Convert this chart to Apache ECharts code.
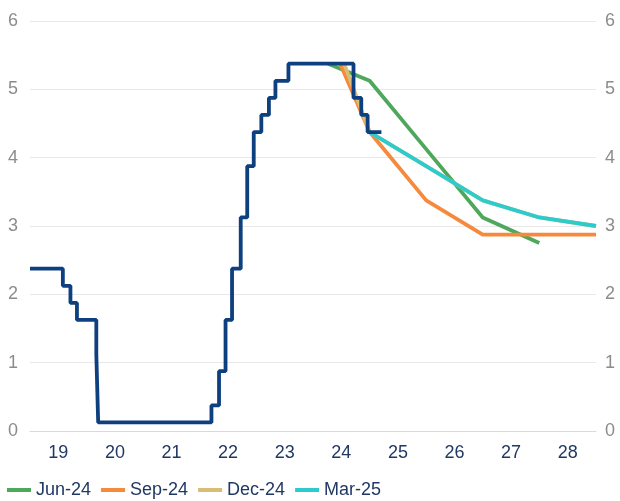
<!DOCTYPE html>
<html>
<head>
<meta charset="utf-8">
<script src="https://cdn.jsdelivr.net/npm/echarts@6/dist/echarts.min.js"></script>
<style>
  html, body { margin: 0; padding: 0; background: #fff; }
  #chart { width: 620px; height: 501px; }
</style>
</head>
<body>
<div id="chart"></div>
<script>
// year labels along the bottom axis
const yearLabels = ["19", "20", "21", "22", "23", "24", "25", "26", "27", "28"];

// policy rate (midpoint of target range), each point = date of change
const policyRate = [
  ["2019-01-01", 2.375],
  ["2019-08-01", 2.125],
  ["2019-09-19", 1.875],
  ["2019-10-31", 1.625],
  ["2020-03-04", 1.125],
  ["2020-03-16", 0.125],
  ["2022-03-17", 0.375],
  ["2022-05-05", 0.875],
  ["2022-06-16", 1.625],
  ["2022-07-28", 2.375],
  ["2022-09-22", 3.125],
  ["2022-11-03", 3.875],
  ["2022-12-15", 4.375],
  ["2023-02-02", 4.625],
  ["2023-03-23", 4.875],
  ["2023-05-04", 5.125],
  ["2023-07-27", 5.375],
  ["2024-09-19", 4.875],
  ["2024-11-08", 4.625],
  ["2024-12-19", 4.375],
  ["2025-03-18", 4.375]
];

// projections
const jun24 = [
  ["2024-04-08", 5.375],
  ["2025-01-01", 5.125],
  ["2026-01-01", 4.125],
  ["2027-01-01", 3.125],
  ["2028-01-01", 2.75]
];
const sep24 = [
  ["2024-06-25", 5.375],
  ["2025-01-01", 4.375],
  ["2026-01-01", 3.375],
  ["2027-01-01", 2.875],
  ["2028-01-01", 2.875],
  ["2029-01-01", 2.875]
];
const dec24 = [
  ["2024-07-20", 5.375],
  ["2025-01-01", 4.375],
  ["2026-01-01", 3.875],
  ["2027-01-01", 3.375],
  ["2028-01-01", 3.125],
  ["2029-01-01", 3.0]
];
const mar25 = [
  ["2025-01-01", 4.375],
  ["2026-01-01", 3.875],
  ["2027-01-01", 3.375],
  ["2028-01-01", 3.125],
  ["2029-01-01", 3.0]
];

const FONT = "Liberation Sans, Arial, sans-serif";
const chart = echarts.init(document.getElementById("chart"));

const forecastLine = (name, data, color) => ({
  name,
  type: "line",
  xAxisIndex: 1,
  data,
  showSymbol: false,
  color,
  lineStyle: { color, width: 3.8 }
});

const option = {
  animation: false,
  grid: { left: 30, right: 24, top: 21, bottom: 70 },
  legend: {
    left: 2,
    bottom: -3,
    icon: "rect",
    itemWidth: 24,
    itemHeight: 4,
    itemGap: 10,
    textStyle: { color: "#1f3864", fontSize: 18, fontFamily: FONT },
    data: ["Jun-24", "Sep-24", "Dec-24", "Mar-25"]
  },
  xAxis: [
    {
      type: "category",
      data: yearLabels,
      boundaryGap: true,
      axisLine: { lineStyle: { color: "#d9d9d9" } },
      axisTick: { length: 5, lineStyle: { color: "#d9d9d9" } },
      axisLabel: { color: "#1f3864", fontSize: 18, fontFamily: FONT, margin: 13 },
      splitLine: { show: false }
    },
    {
      type: "time",
      min: "2019-01-01",
      max: "2029-01-01",
      show: false
    }
  ],
  yAxis: [
    {
      type: "value",
      min: 0,
      max: 6,
      interval: 1,
      axisLine: { show: false },
      axisTick: { show: false },
      axisLabel: { color: "#8c8c8c", fontSize: 18, fontFamily: FONT, margin: 12 },
      splitLine: { lineStyle: { color: "#e8e8e8" } }
    },
    {
      type: "value",
      position: "right",
      min: 0,
      max: 6,
      interval: 1,
      axisLine: { show: false },
      axisTick: { show: false },
      axisLabel: { color: "#8c8c8c", fontSize: 18, fontFamily: FONT, margin: 9 },
      splitLine: { show: false }
    }
  ],
  series: [
    forecastLine("Jun-24", jun24, "#4ea85b"),
    forecastLine("Sep-24", sep24, "#f5893c"),
    forecastLine("Dec-24", dec24, "#d8bd76"),
    forecastLine("Mar-25", mar25, "#2ecbcc"),
    {
      name: "Policy rate",
      type: "line",
      xAxisIndex: 1,
      step: "end",
      data: policyRate,
      showSymbol: false,
      lineStyle: { color: "#0e3f7f", width: 3.8 },
      color: "#0e3f7f"
    }
  ]
};

chart.setOption(option);
</script>
</body>
</html>
